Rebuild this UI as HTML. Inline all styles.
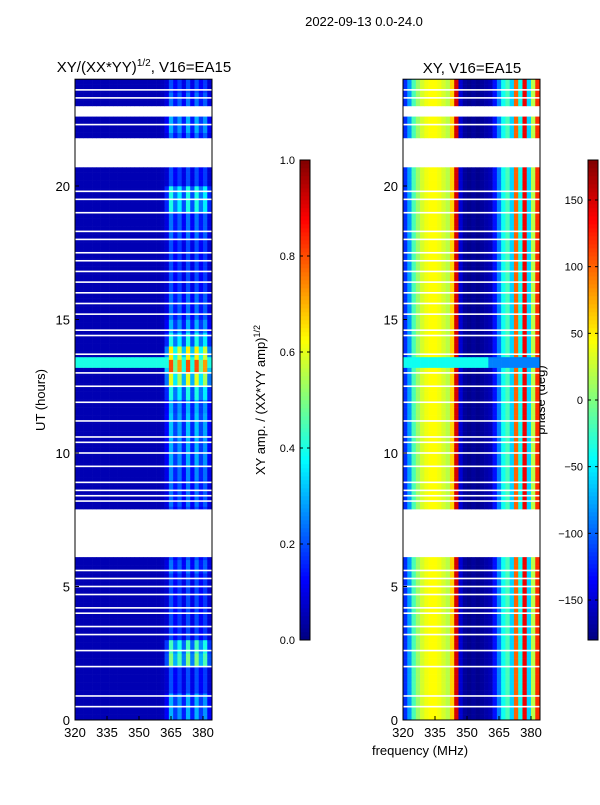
<!DOCTYPE html>
<html><head><meta charset="utf-8">
<style>
body{margin:0;background:#fff;font-family:"Liberation Sans",sans-serif;}
svg text{font-family:"Liberation Sans",sans-serif;fill:#000;}
</style></head>
<body>
<svg id="c" width="600" height="800" xmlns="http://www.w3.org/2000/svg">
<rect width="600" height="800" fill="#fff"/>
<text x="364" y="26" font-size="13" text-anchor="middle">2022-09-13 0.0-24.0</text>
<text x="144" y="72" font-size="15" text-anchor="middle">XY/(XX*YY)<tspan font-size="10" dy="-6">1/2</tspan><tspan dy="6">, V16=EA15</tspan></text>
<text x="472" y="73" font-size="15" text-anchor="middle">XY, V16=EA15</text>
<text transform="translate(45,400) rotate(-90)" font-size="13" text-anchor="middle">UT (hours)</text>
<text transform="translate(265,400) rotate(-90)" font-size="13" text-anchor="middle">XY amp. / (XX*YY amp)<tspan font-size="9" dy="-5">1/2</tspan></text>
<text transform="translate(545,400) rotate(-90)" font-size="13" text-anchor="middle">phase (deg)</text>
<text x="420" y="755" font-size="13" text-anchor="middle">frequency (MHz)</text>
<g id="g"></g>
</svg>
<script>
const freqBins=[320,322,324,326,328,330,332,334,336,338,340,342,344,346,348,350,352,354,356,358,360,362,364,366,368,370,372,374,376,378,380,382];
const ampProfile=[0.05,0.05,0.05,0.05,0.05,0.05,0.05,0.05,0.05,0.05,0.05,0.05,0.05,0.05,0.05,0.05,0.05,0.05,0.05,0.05,0.06,0.08,0.2,0.12,0.18,0.1,0.2,0.1,0.2,0.12,0.18,0.08];
const phaseProfile=[-120,-80,-20,10,30,40,45,45,40,30,20,60,150,-150,-170,-175,-170,-175,-170,-165,-160,-130,-90,-40,-20,-60,100,-40,140,-60,20,120];
const rowBoost=[1.5,1.5,1,1,2.5,2.2,1,1,1,1,1,1.2,1,1,1,1,1.2,1.2,1.3,1.5,1.5,1.6,1.6,1.5,2,3,4,3.2,2,1.5,1.2,1.2,1,1,1,1,1.2,1.2,2,2,1,1,1,1.2,1.5,1.5,1.2,1];
const gapRanges=[[6.1,7.95],[20.7,21.85],[22.6,23.0]];
const gapLines=[0.5,0.9,2.0,2.6,3.2,3.5,4.0,4.2,4.7,5.0,5.3,5.6,8.2,8.4,8.6,8.9,9.5,10.0,10.4,10.6,11.2,11.9,12.5,13.0,13.7,14.4,14.6,15.2,15.6,16.0,16.4,16.8,17.2,17.5,18.0,18.3,19.0,19.5,19.8,22.3,23.3,23.6];
const bandRows=[[13.25,13.55]];
const xTicks=[320,335,350,365,380];
const yTicks=[0,5,10,15,20];
const ampTicks=[0.0,0.2,0.4,0.6,0.8,1.0];
const phaseTicks=[-150,-100,-50,0,50,100,150];

const NS="http://www.w3.org/2000/svg";
const g=document.getElementById('g');
function mk(t,a,p){const e=document.createElementNS(NS,t);for(const k in a)e.setAttribute(k,a[k]);(p||g).appendChild(e);return e;}
function jet(v){v=Math.max(0,Math.min(1,v));const r=Math.max(0,Math.min(1,1.5-Math.abs(4*v-3))),gg=Math.max(0,Math.min(1,1.5-Math.abs(4*v-2))),b=Math.max(0,Math.min(1,1.5-Math.abs(4*v-1)));return `rgb(${Math.round(r*255)},${Math.round(gg*255)},${Math.round(b*255)})`;}
const panels=[{x0:75,name:'amp'},{x0:403,name:'phase'}];
const y0=720,pxH=26.7,pxM=32/15,fmin=320;
function X(p,f){return p.x0+(f-fmin)*pxM;}
function Y(h){return y0-h*pxH;}
function isGap(h){for(const r of gapRanges)if(h+0.05>=r[0]&&h+0.05<r[1])return true;return false;}
function inBand(h){for(const r of bandRows)if(h>=r[0]-0.05&&h<r[1])return true;return false;}
const nRows=240;
panels.forEach((p,pi)=>{
  const hg=mk('g',{});
  
  
  for(let r=0;r<nRows;r++){
    const h=r*0.1;
    if(isGap(h))continue;
    const boost=rowBoost[Math.floor(h/0.5)];
    freqBins.forEach((f,ci)=>{
      let v;
      if(pi===0){
        v=ampProfile[ci];
        if(f>=362)v=v*boost;
        if(inBand(h))v=Math.max(v,0.4);
        v=Math.min(v,0.85);
      }else{
        let ph=phaseProfile[ci];
        if(inBand(h))ph=(f<360)?-40:-90;
        v=(ph+180)/360;
      }
      const c=mk('rect',{x:X(p,f).toFixed(2),y:Y(h+0.1).toFixed(2),width:(2*pxM+0.3).toFixed(2),height:(0.1*pxH+0.3).toFixed(2),fill:jet(v)},hg);
      
      
    });
  }
  gapLines.forEach(l=>{
    const w=mk('rect',{x:p.x0,y:(Y(l)-0.8).toFixed(2),width:137,height:1.6,fill:'#fff'},hg);
    
    
  });
  const fr=mk('rect',{x:p.x0,y:Y(24),width:137,height:24*pxH,fill:'none',stroke:'#000','stroke-width':1});
  
  
  xTicks.forEach(t=>{
    const x=X(p,t);
    mk('line',{x1:x,x2:x,y1:y0,y2:y0-4,stroke:'#000'});
    const tx=mk('text',{x:x,y:737,'font-size':13,'text-anchor':'middle'});tx.textContent=t;
    
    
  });
  yTicks.forEach(t=>{
    const y=Y(t);
    mk('line',{x1:p.x0,x2:p.x0+4,y1:y,y2:y,stroke:'#000'});
    const tx=mk('text',{x:p.x0-5,y:y+5,'font-size':13,'text-anchor':'end'});tx.textContent=t;
    
    
  });
});
function colorbar(x,lo,hi,ticks,name,fmt){
  const top=160,bot=640;
  const cg=mk('g',{});
  
  
  for(let i=0;i<120;i++){
    const v=i/120;
    mk('rect',{x:x,y:bot-(i+1)*4,width:10,height:4.3,fill:jet(v+1/240)},cg);
  }
  mk('rect',{x:x,y:top,width:10,height:bot-top,fill:'none',stroke:'#000'},cg);
  ticks.forEach(t=>{
    const y=bot-(t-lo)/(hi-lo)*(bot-top);
    mk('line',{x1:x,x2:x+3,y1:y,y2:y,stroke:'#000'},cg);
    mk('line',{x1:x+7,x2:x+10,y1:y,y2:y,stroke:'#000'},cg);
    const tx=mk('text',{x:x-5,y:y+4,'font-size':11,'text-anchor':'end'},cg);tx.textContent=fmt(t);
    
    
  });
}
colorbar(300,0,1,ampTicks,'amp-colorbar',t=>t.toFixed(1));
colorbar(588,-180,180,phaseTicks,'phase-colorbar',t=>t<0?'\u2212'+(-t):String(t));
</script>
</body></html>
